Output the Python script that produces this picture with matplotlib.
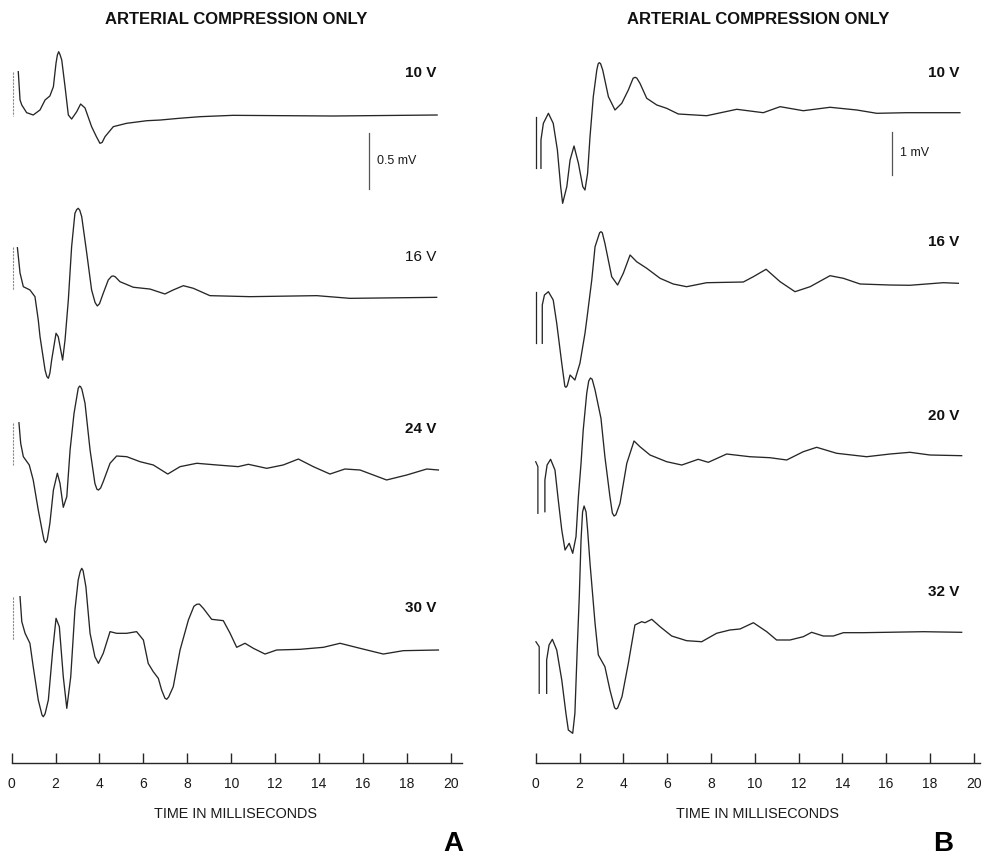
import matplotlib
matplotlib.use("Agg")
import matplotlib.pyplot as plt

plt.rcParams["font.family"] = ["Liberation Sans", "DejaVu Sans"]

W, H = 984, 856

# ---------- data: time (ms) and amplitude (mV, relative to trace baseline) ----------
# Panel A
a10_t = [0.30, 0.38, 0.46, 0.68, 0.98, 1.29, 1.52, 1.74, 1.90, 1.96, 2.02, 2.08, 2.14, 2.20, 2.28,
         2.43, 2.58, 2.73, 2.96, 3.14, 3.34, 3.64, 3.85, 4.02, 4.12, 4.25, 4.63, 5.24, 5.80, 6.15,
         6.76, 7.60, 8.58, 10.08, 14.64, 19.38]
a10_v = [0.387, 0.134, 0.089, 0.021, 0.0, 0.045, 0.134, 0.170, 0.253, 0.36, 0.464, 0.535, 0.565,
         0.54, 0.491, 0.253, 0.0, -0.036, 0.029, 0.098, 0.063, -0.104, -0.19, -0.253, -0.245, -0.194,
         -0.104, -0.074, -0.06, -0.051, -0.045, -0.03, -0.015, -0.003, -0.009, 0.0]

a16_t = [0.26, 0.38, 0.53, 0.83, 1.06, 1.21, 1.29, 1.52, 1.60, 1.67, 1.74, 1.82, 2.02, 2.12, 2.32,
         2.43, 2.58, 2.73, 2.88, 2.96, 3.03, 3.10, 3.19, 3.42, 3.64, 3.80, 3.90, 4.00, 4.17, 4.40,
         4.55, 4.63, 4.72, 4.93, 5.54, 6.30, 6.98, 7.36, 7.82, 8.27, 9.03, 10.86, 13.90, 15.41, 19.36]
a16_v = [0.440, 0.214, 0.092, 0.063, 0.003, -0.205, -0.354, -0.652, -0.71, -0.726, -0.68, -0.563,
         -0.324, -0.354, -0.563, -0.384, -0.027, 0.449, 0.747, 0.78, 0.792, 0.775, 0.717, 0.390,
         0.063, -0.05, -0.080, -0.06, 0.033, 0.152, 0.185, 0.188, 0.18, 0.137, 0.087, 0.071, 0.027,
         0.063, 0.101, 0.078, 0.012, 0.003, 0.012, -0.012, -0.003]

a24_t = [0.33, 0.41, 0.53, 0.80, 0.98, 1.21, 1.41, 1.48, 1.55, 1.62, 1.74, 1.90, 2.08, 2.20, 2.35,
         2.51, 2.66, 2.84, 3.03, 3.09, 3.14, 3.20, 3.34, 3.57, 3.79, 3.88, 3.95, 4.05, 4.17, 4.48,
         4.78, 5.24, 5.85, 6.45, 7.11, 7.67, 8.43, 9.34, 10.32, 10.78, 11.62, 12.37, 13.06, 13.74,
         14.50, 15.18, 15.87, 17.08, 17.99, 18.91, 19.44]
a24_v = [0.413, 0.229, 0.110, 0.036, -0.098, -0.366, -0.574, -0.64, -0.658, -0.63, -0.485, -0.188,
         -0.038, -0.128, -0.342, -0.247, 0.170, 0.497, 0.720, 0.74, 0.735, 0.71, 0.587, 0.170,
         -0.128, -0.18, -0.188, -0.17, -0.113, 0.051, 0.116, 0.110, 0.065, 0.036, -0.045, 0.021,
         0.051, 0.036, 0.021, 0.042, 0.006, 0.036, 0.089, 0.021, -0.045, 0.0, -0.009, -0.098, -0.054,
         0.0, -0.009]

a30_t = [0.38, 0.46, 0.61, 0.83, 0.98, 1.21, 1.38, 1.44, 1.52, 1.67, 1.87, 2.02, 2.17, 2.35, 2.51,
         2.69, 2.88, 3.03, 3.12, 3.19, 3.25, 3.38, 3.57, 3.79, 3.95, 4.17, 4.48, 4.78, 5.24, 5.69,
         6.00, 6.22, 6.45, 6.68, 6.83, 6.98, 7.06, 7.15, 7.36, 7.67, 8.05, 8.30, 8.43, 8.55, 8.73,
         9.11, 9.64, 9.95, 10.25, 10.63, 11.01, 11.54, 12.07, 13.13, 14.20, 14.96, 15.87, 16.93,
         17.84, 19.44]
a30_v = [0.476, 0.253, 0.149, 0.060, -0.149, -0.446, -0.58, -0.596, -0.57, -0.446, 0.0, 0.283,
         0.208, -0.238, -0.521, -0.238, 0.357, 0.625, 0.70, 0.729, 0.71, 0.565, 0.149, -0.060,
         -0.119, -0.030, 0.164, 0.149, 0.149, 0.164, 0.089, -0.120, -0.194, -0.253, -0.357, -0.43,
         -0.440, -0.42, -0.328, 0.0, 0.268, 0.39, 0.408, 0.41, 0.372, 0.274, 0.262, 0.149, 0.024,
         0.060, 0.015, -0.036, 0.0, 0.006, 0.024, 0.060, 0.015, -0.036, -0.006, 0.0]

# stimulus artifacts, panel A (time, top, bottom in mV)
a_art_t = [0.07, 0.07, 0.07, 0.07]
a_art_top = [0.38, 0.45, 0.41, 0.476]
a_art_bot = [-0.01, 0.06, 0.036, 0.089]

# Panel B
b10_t = [0.24, 0.24, 0.35, 0.58, 0.80, 0.99, 1.14, 1.23, 1.42, 1.57, 1.75, 1.95, 2.15, 2.25, 2.37,
         2.48, 2.63, 2.79, 2.85, 2.90, 2.96, 3.06, 3.32, 3.62, 3.93, 4.23, 4.45, 4.54, 4.62, 4.76,
         5.07, 5.53, 5.98, 6.51, 7.81, 9.18, 10.39, 11.16, 12.22, 13.44, 14.66, 15.57, 16.94, 19.37]
b10_v = [-1.286, -0.628, -0.240, -0.007, -0.240, -0.860, -1.714, -2.100, -1.714, -1.093, -0.767,
         -1.170, -1.714, -1.791, -1.402, -0.551, 0.379, 1.0, 1.14, 1.170, 1.15, 1.0, 0.379, 0.070,
         0.226, 0.535, 0.81, 0.830, 0.81, 0.691, 0.342, 0.186, 0.109, -0.023, -0.063, 0.086, 0.007,
         0.147, 0.053, 0.133, 0.070, -0.007, 0.007, 0.007]

b16_t = [0.30, 0.30, 0.40, 0.58, 0.80, 0.96, 1.19, 1.33, 1.38, 1.44, 1.57, 1.79, 2.02, 2.25, 2.33,
         2.56, 2.71, 2.92, 2.98, 3.04, 3.16, 3.47, 3.74, 4.00, 4.31, 4.61, 5.07, 5.68, 6.28, 6.89,
         7.81, 9.48, 9.94, 10.52, 11.16, 11.84, 12.53, 13.44, 14.05, 14.81, 16.18, 17.09, 18.61,
         19.30]
b16_v = [-1.402, -0.512, -0.279, -0.202, -0.395, -0.937, -1.867, -2.40, -2.426, -2.39, -2.140,
         -2.256, -1.867, -1.170, -0.860, 0.070, 0.844, 1.17, 1.193, 1.17, 0.923, 0.147, -0.047,
         0.226, 0.651, 0.495, 0.342, 0.109, -0.023, -0.086, 0.007, 0.023, 0.147, 0.319, 0.030,
         -0.202, -0.086, 0.170, 0.109, -0.023, -0.047, -0.053, 0.007, -0.007]

b20_t = [0.42, 0.42, 0.52, 0.68, 0.88, 1.03, 1.19, 1.34, 1.53, 1.69, 1.84, 1.95, 2.07, 2.17, 2.33,
         2.42, 2.50, 2.58, 2.71, 2.98, 3.16, 3.39, 3.50, 3.58, 3.66, 3.85, 4.16, 4.49, 4.76, 5.22,
         5.98, 6.67, 7.42, 7.88, 8.72, 9.78, 10.70, 11.46, 12.22, 12.83, 13.74, 15.11, 16.18, 17.09,
         18.00, 19.45]
b20_v = [-1.319, -0.581, -0.233, -0.100, -0.349, -1.047, -1.744, -2.209, -2.053, -2.286, -1.900,
         -0.970, -0.193, 0.581, 1.435, 1.72, 1.791, 1.76, 1.512, 0.853, -0.040, -0.970, -1.35,
         -1.419, -1.39, -1.123, -0.193, 0.326, 0.193, 0.0, -0.156, -0.233, -0.100, -0.170, 0.023,
         -0.040, -0.063, -0.116, 0.077, 0.179, 0.040, -0.040, 0.023, 0.063, 0.0, -0.016]

b32_t = [0.50, 0.50, 0.61, 0.76, 0.96, 1.19, 1.38, 1.49, 1.69, 1.79, 1.90, 1.99, 2.07, 2.14, 2.21,
         2.30, 2.37, 2.48, 2.71, 2.86, 3.16, 3.39, 3.60, 3.67, 3.74, 3.94, 4.23, 4.53, 4.84, 4.99,
         5.30, 5.68, 6.21, 6.89, 7.58, 8.26, 8.87, 9.33, 9.94, 10.55, 11.00, 11.61, 12.22, 12.60,
         13.13, 13.59, 14.05, 14.96, 16.03, 17.70, 19.45]
b32_v = [-1.426, -0.651, -0.302, -0.170, -0.419, -1.116, -1.891, -2.279, -2.356, -1.891, -0.342,
         0.821, 2.140, 2.791, 2.930, 2.791, 2.372, 1.598, 0.202, -0.535, -0.807, -1.349, -1.76,
         -1.791, -1.77, -1.505, -0.728, 0.163, 0.240, 0.216, 0.295, 0.123, -0.093, -0.202, -0.226,
         -0.030, 0.047, 0.070, 0.216, 0.007, -0.186, -0.186, -0.109, -0.007, -0.093, -0.093, -0.016,
         -0.016, -0.007, 0.007, -0.007]

# stimulus artifacts, panel B (polyline: time, mV)
b_art_t = [[0.0, 0.0], [0.0, 0.0], [0.0, 0.1, 0.1], [0.01, 0.16, 0.16]]
b_art_v = [[-0.086, -1.29], [-0.20, -1.40], [-0.156, -0.27, -1.356], [-0.226, -0.342, -1.426]]

a_labels = ["10 V", "16 V", "24 V", "30 V"]
b_labels = ["10 V", "16 V", "20 V", "32 V"]
ticks = [0, 2, 4, 6, 8, 10, 12, 14, 16, 18, 20]

# ---------- layout (pixels of the 984x856 picture) ----------
A = dict(x0=11.7, pxms=21.95, scale=112.0, base=[115, 297, 469, 650],
         lab_y=[73, 257, 429, 608], lab_x=421, bar_t=16.28, bar_top=133, bar_len=0.5,
         bar_txt="0.5 mV", title_x=236, letter="A", letter_x=453)
B = dict(x0=535.7, pxms=21.9, scale=43.0, base=[113, 283, 455, 632],
         lab_y=[73, 242, 416, 592], lab_x=944, bar_t=16.27, bar_top=132, bar_len=1.0,
         bar_txt="1 mV", title_x=758, letter="B", letter_x=943)
AXIS_Y = 763
INK = "#262626"

fig = plt.figure(figsize=(W / 100, H / 100), dpi=100)


def make_axes(p, xlim):
    left = p["x0"] + xlim[0] * p["pxms"]
    right = p["x0"] + xlim[1] * p["pxms"]
    ax = fig.add_axes([left / W, 0, (right - left) / W, 1])
    ax.set_xlim(*xlim)
    ax.set_ylim(-H / p["scale"], 0)
    ax.patch.set_visible(False)
    for s in ["top", "left", "right"]:
        ax.spines[s].set_visible(False)
    ax.spines["bottom"].set_position(("data", -AXIS_Y / p["scale"]))
    ax.spines["bottom"].set_bounds(0, xlim[1] - 0.1)
    ax.spines["bottom"].set_color(INK)
    ax.spines["bottom"].set_linewidth(1.0)
    ax.set_yticks([])
    ax.set_xticks(ticks)
    ax.set_xticklabels([str(t) for t in ticks])
    ax.tick_params(axis="x", direction="in", length=7, width=1.0, color=INK,
                   labelsize=10, labelcolor="#1a1a1a", pad=10)
    return ax


axA = make_axes(A, (-0.5, 20.6))
axB = make_axes(B, (-0.5, 20.4))

tracesA = [(a10_t, a10_v), (a16_t, a16_v), (a24_t, a24_v), (a30_t, a30_v)]
tracesB = [(b10_t, b10_v), (b16_t, b16_v), (b20_t, b20_v), (b32_t, b32_v)]

for i, (t, v) in enumerate(tracesA):
    off = -A["base"][i] / A["scale"]
    axA.plot(t, [y + off for y in v], color=INK, lw=0.95, solid_joinstyle="round")
    axA.plot([a_art_t[i], a_art_t[i]], [a_art_top[i] + off, a_art_bot[i] + off],
             color="#8a8a8a", lw=0.8, ls=(0, (2, 1)))

for i, (t, v) in enumerate(tracesB):
    off = -B["base"][i] / B["scale"]
    axB.plot(t, [y + off for y in v], color=INK, lw=0.95, solid_joinstyle="round")
    axB.plot(b_art_t[i], [y + off for y in b_art_v[i]], color=INK, lw=0.9)

# scale bars
for ax, p in [(axA, A), (axB, B)]:
    top = -p["bar_top"] / p["scale"]
    ax.plot([p["bar_t"], p["bar_t"]], [top, top - p["bar_len"]], color="#555555", lw=0.9)
    ax.text(p["bar_t"] + 0.38, top - p["bar_len"] / 2, p["bar_txt"], fontsize=9,
            va="center", ha="left", color="#1a1a1a")

# text
for p, labs in [(A, a_labels), (B, b_labels)]:
    weights = ["bold"] * 4
    if p is A:
        weights[1] = "normal"
    for lab, y, w in zip(labs, p["lab_y"], weights):
        fig.text(p["lab_x"] / W, 1 - y / H, lab, ha="center", va="center",
                 fontsize=11, fontweight=w, color="#111111")
    fig.text(p["title_x"] / W, 1 - 19 / H, "ARTERIAL COMPRESSION ONLY", ha="center",
             va="center", fontsize=12, fontweight="bold", color="#111111")
    fig.text(p["title_x"] / W, 1 - 814 / H, "TIME IN MILLISECONDS", ha="center",
             va="center", fontsize=10.4, color="#1a1a1a")
    fig.text(p["letter_x"] / W, 1 - 844 / H, p["letter"], ha="center", va="center",
             fontsize=20, fontweight="heavy", color="#000000")

fig.savefig("out.png", dpi=100, facecolor="white")
